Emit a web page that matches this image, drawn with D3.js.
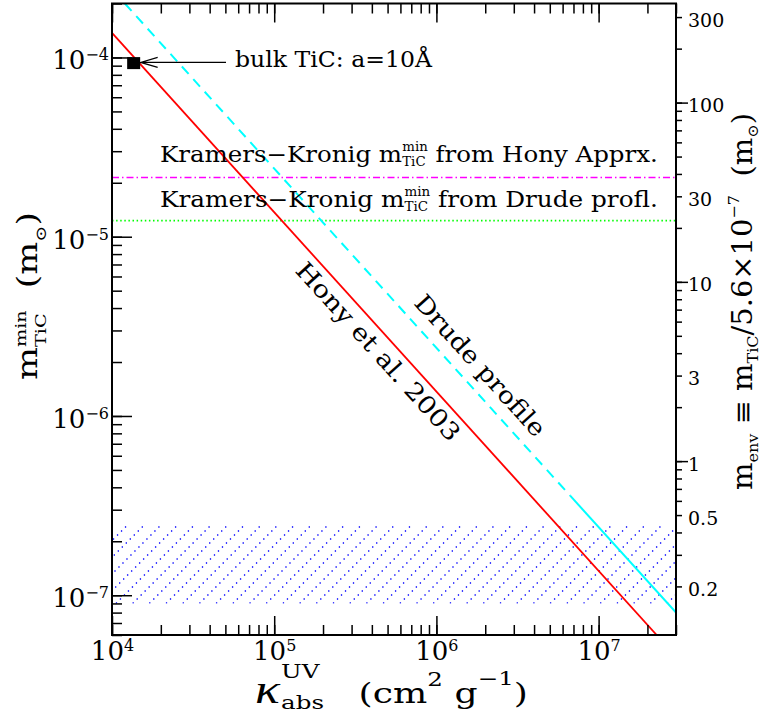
<!DOCTYPE html>
<html><head><meta charset="utf-8">
<script src="https://cdn.jsdelivr.net/npm/d3@7"></script>
<style>body{margin:0;background:#fff} svg{display:block}</style>
</head><body><svg id="chart" width="761" height="713"></svg>
<script>
// ---- data ----
const kappaHony = [1.0e4, 2.28e7];
const mHony = [1.37e-4, 6.0e-8];
const kappaDrudeDashed = [1.2e4, 6.7e6];
const mDrudeDashed = [2.0e-4, 3.58e-7];
const kappaDrudeSolid = [6.7e6, 3.0e7];
const mDrudeSolid = [3.58e-7, 8.0e-8];
const mKKHony = 2.14e-5;
const mKKDrude = 1.23e-5;
const bulkTiCKappa = 1.36e4;
const bulkTiCMass = 9.3e-5;
const envBand = [9.0e-8, 2.5e-7];
const envScale = 5.6e-7;
const xDomain = [1e4, 3e7];
const yDomain = [6e-8, 2e-4];
const xTickValues = [1e4, 1e5, 1e6, 1e7];
const xTickExponents = ["4", "5", "6", "7"];
const yTickValues = [1e-4, 1e-5, 1e-6, 1e-7];
const yTickExponents = ["−4", "−5", "−6", "−7"];
const rightMajorTicks = [1, 10, 100];
const rightTickLabels = [0.2, 0.5, 1, 3, 10, 30, 100, 300];
const honyLabelAnchor = [5.2e5, 2.63e-6];
const drudeLabelAnchor = [1.5e6, 1.6e-6];

// ---- setup ----
const FONT = '"DejaVu Serif", serif';
const W = 761, H = 713;
const L = 112, R = 676, T = 3.5, B = 635;
const svg = d3.select('#chart');
svg.append('rect').attr('width', W).attr('height', H).attr('fill', '#fff');

const x = d3.scaleLog().domain(xDomain).range([L, R]);
const y = d3.scaleLog().domain(yDomain).range([B, T]);
const yR = d3.scaleLog().domain(yDomain.map(v => v / envScale)).range([B, T]);

const defs = svg.append('defs');
defs.append('clipPath').attr('id', 'clip').append('rect')
  .attr('x', L).attr('y', T).attr('width', R - L).attr('height', B - T);
const bandTop = y(envBand[1]), bandBot = y(envBand[0]);
defs.append('clipPath').attr('id', 'bandclip').append('rect')
  .attr('x', L).attr('y', bandTop).attr('width', R - L).attr('height', bandBot - bandTop);

const plot = svg.append('g').attr('clip-path', 'url(#clip)');

// hatched band
const bh = bandBot - bandTop;
const hatch = plot.append('g').attr('clip-path', 'url(#bandclip)');
for (let x0 = L - bh; x0 < R + 2; x0 += 16.7) {
  hatch.append('line').attr('x1', x0).attr('y1', bandBot).attr('x2', x0 + bh).attr('y2', bandTop)
    .attr('stroke', '#0000ff').attr('stroke-width', 1.35).attr('stroke-dasharray', '1.35,4.3');
}

const line = d3.line().x(d => x(d[0])).y(d => y(d[1]));
// horizontal lines
plot.append('path').datum([[xDomain[0], mKKHony], [xDomain[1], mKKHony]]).attr('d', line)
  .attr('fill', 'none').attr('stroke', '#ff00ff').attr('stroke-width', 1.6).attr('stroke-dasharray', '7,3,1.5,3');
plot.append('path').datum([[xDomain[0], mKKDrude], [xDomain[1], mKKDrude]]).attr('d', line)
  .attr('fill', 'none').attr('stroke', '#00ff00').attr('stroke-width', 1.6).attr('stroke-dasharray', '1.5,2.6');
// Hony line
plot.append('path').datum(d3.zip(kappaHony, mHony)).attr('d', line)
  .attr('fill', 'none').attr('stroke', '#ff0000').attr('stroke-width', 1.8);
// Drude line
plot.append('path').datum(d3.zip(kappaDrudeDashed, mDrudeDashed)).attr('d', line)
  .attr('fill', 'none').attr('stroke', '#00ffff').attr('stroke-width', 2).attr('stroke-dasharray', '10,7');
plot.append('path').datum(d3.zip(kappaDrudeSolid, mDrudeSolid)).attr('d', line)
  .attr('fill', 'none').attr('stroke', '#00ffff').attr('stroke-width', 2);

// bulk TiC marker
const bx = x(bulkTiCKappa), by = y(bulkTiCMass);
svg.append('rect').attr('x', bx - 6.5).attr('y', by - 6).attr('width', 13).attr('height', 12).attr('fill', '#000');
const ay = by - 0.7, tip = bx + 7;
svg.append('path').attr('d', `M${tip},${ay}H226M${tip + 17},${ay - 5}L${tip},${ay}L${tip + 17},${ay + 5}`)
  .attr('fill', 'none').attr('stroke', '#000').attr('stroke-width', 1.2);

// ---- rich text helper ----
function rich(parent, parts, o) {
  const g = parent.append('g').attr('transform', `translate(${o.x},${o.y}) rotate(${o.rotate || 0})`);
  const inner = g.append('g');
  let cx = 0;
  const addText = (str, px, py, fs, italic, family) => {
    const t = inner.append('text').attr('x', px).attr('y', py).attr('font-size', fs)
      .attr('font-family', family || FONT).attr('fill', '#000').attr('xml:space', 'preserve')
      .style('white-space', 'pre').text(str);
    if (italic) t.attr('font-style', 'italic');
    return t.node().getComputedTextLength();
  };
  parts.forEach(p => {
    if (typeof p === 'string') p = {t: p};
    cx += p.dx || 0;
    if (p.t !== undefined) {
      cx += addText(p.t, cx, p.y || 0, p.size || o.size, p.italic, p.family);
    } else {
      let w = 0;
      if (p.sup) w = Math.max(w, addText(p.sup, cx, p.supY ?? o.supY, p.supSize ?? o.subSize, false));
      if (p.sub) w = Math.max(w, addText(p.sub, cx, p.subY ?? o.subY, p.subSize ?? o.subSize, false));
      cx += w;
    }
  });
  const sx = o.width ? o.width / cx : 1;
  const off = o.anchor === 'middle' ? -cx / 2 : (o.anchor === 'end' ? -cx : 0);
  inner.attr('transform', `scale(${sx},1) translate(${off},${o.dy || 0})`);
  return g;
}

// annotations
rich(svg, ["bulk TiC: a=10Å"], {x: 235, y: 67, size: 22, width: 197});
rich(svg, ["Kramers−Kronig m", {sup: "min", sub: "TiC"}, " from Hony Apprx."],
  {x: 160, y: 162, size: 22, width: 498, subSize: 12, supY: -11, subY: 4});
rich(svg, ["Kramers−Kronig m", {sup: "min", sub: "TiC"}, " from Drude profl."],
  {x: 160, y: 206.5, size: 22, width: 498, subSize: 12, supY: -11, subY: 4});

const angle = Math.atan2(y(mHony[1]) - y(mHony[0]), x(kappaHony[1]) - x(kappaHony[0])) * 180 / Math.PI;
rich(svg, ["Hony et al. 2003"], {x: x(honyLabelAnchor[0]), y: y(honyLabelAnchor[1]), rotate: angle,
  size: 24, width: 232, anchor: 'middle', dy: 24.6});
rich(svg, ["Drude profile"], {x: x(drudeLabelAnchor[0]), y: y(drudeLabelAnchor[1]), rotate: angle,
  size: 24, width: 182, anchor: 'middle', dy: -12.3});

// frame
svg.append('rect').attr('x', L).attr('y', T).attr('width', R - L).attr('height', B - T)
  .attr('fill', 'none').attr('stroke', '#000').attr('stroke-width', 2);

// ---- axes ----
function styleAxis(g) {
  g.select('.domain').remove();
  g.selectAll('.tick line').attr('stroke-width', 1.5);
  g.attr('font-family', FONT);
}
svg.append('g').attr('transform', `translate(0,${B})`)
  .call(d3.axisBottom(x).tickValues(x.ticks()).tickSize(-10).tickFormat('')).call(styleAxis);
const xAx = svg.append('g').attr('transform', `translate(0,${B})`)
  .call(d3.axisBottom(x).tickValues(xTickValues).tickSize(-19).tickPadding(8).tickFormat('')).call(styleAxis);
xAx.attr('font-size', 26);
xAx.selectAll('.tick text').attr('dy', '0.66em').each(function (d, i) {
  const t = d3.select(this);
  t.append('tspan').text('10');
  t.append('tspan').attr('dy', -9).attr('font-size', 16).text(xTickExponents[i]);
});
svg.append('g').attr('transform', `translate(0,${T})`)
  .call(d3.axisTop(x).tickValues(x.ticks()).tickSize(-10).tickFormat('')).call(styleAxis);
svg.append('g').attr('transform', `translate(0,${T})`)
  .call(d3.axisTop(x).tickValues(xTickValues).tickSize(-19).tickFormat('')).call(styleAxis);

svg.append('g').attr('transform', `translate(${L},0)`)
  .call(d3.axisLeft(y).tickValues(y.ticks()).tickSize(-10).tickFormat('')).call(styleAxis);
const yAx = svg.append('g').attr('transform', `translate(${L},0)`)
  .call(d3.axisLeft(y).tickValues(yTickValues).tickSize(-20).tickPadding(3).tickFormat('')).call(styleAxis);
yAx.attr('font-size', 26);
yAx.selectAll('.tick text').attr('dy', '0.44em').each(function (d, i) {
  const t = d3.select(this);
  t.append('tspan').text('10');
  t.append('tspan').attr('dy', -9).attr('font-size', 16).text(yTickExponents[i]);
});

svg.append('g').attr('transform', `translate(${R},0)`)
  .call(d3.axisRight(yR).tickValues(yR.ticks()).tickSize(6).tickFormat('')).call(styleAxis);
svg.append('g').attr('transform', `translate(${R},0)`)
  .call(d3.axisRight(yR).tickValues(rightMajorTicks).tickSize(12).tickFormat('')).call(styleAxis);
const rAx = svg.append('g').attr('transform', `translate(${R},0)`)
  .call(d3.axisRight(yR).tickValues(rightTickLabels).tickSize(0).tickPadding(12).tickFormat(d => String(d))).call(styleAxis);
rAx.attr('font-size', 19);
rAx.selectAll('.tick text').attr('dy', '0.48em');

// ---- axis titles ----
rich(svg, [{t: "κ", size: 40, italic: true, family: '"Liberation Serif", serif'}, {dx: 1, sup: "UV", sub: "abs", supY: -25, subY: 6},
  "   (cm", {sup: "2", supY: -17}, " g", {sup: "−1", supY: -18}, ")"],
  {x: 255, y: 703, size: 28, width: 273, subSize: 19});
rich(svg, ["m", {sup: "min", sub: "TiC"}, "  (m", {sub: "⊙"}, ")"],
  {x: 37, y: 380, rotate: -90, size: 27, width: 168, subSize: 15, supY: -11, subY: 9});
rich(svg, ["m", {sub: "env"}, " ≡ m", {sub: "TiC"}, "/5.6×10", {sup: "−7"}, "  (m", {sub: "⊙"}, ")"],
  {x: 752, y: 490, rotate: -90, size: 27, width: 377, subSize: 15, supY: -13, subY: 6});
</script>
</body></html>
